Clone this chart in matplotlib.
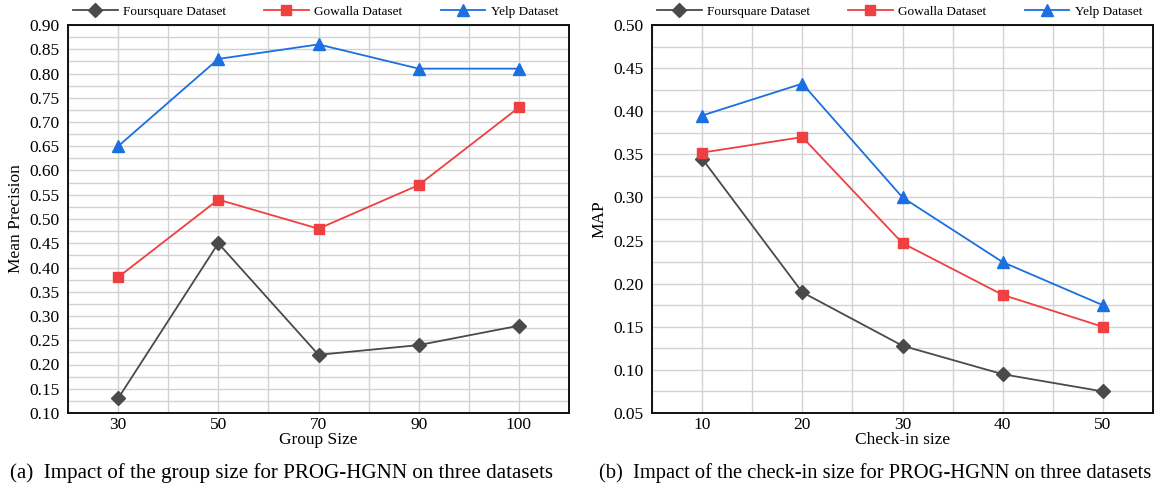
import numpy as np
import matplotlib.pyplot as plt
from matplotlib.ticker import MultipleLocator, FormatStrFormatter

plt.rcParams['font.family'] = ['Liberation Serif', 'DejaVu Serif']

# left panel: group size
group_sizes = ['30', '50', '70', '90', '100']
fsq_group = [0.13, 0.45, 0.22, 0.24, 0.28]
gow_group = [0.38, 0.54, 0.48, 0.57, 0.73]
yelp_group = [0.65, 0.83, 0.86, 0.81, 0.81]

# right panel: check-in size
checkin_sizes = ['10', '20', '30', '40', '50']
fsq_checkin = [0.345, 0.19, 0.128, 0.095, 0.075]
gow_checkin = [0.352, 0.37, 0.247, 0.187, 0.15]
yelp_checkin = [0.395, 0.432, 0.30, 0.225, 0.175]

labels = ['Foursquare Dataset', 'Gowalla Dataset', 'Yelp Dataset']
colors = ['#4a4a4a', '#ee4040', '#1c6fe0']
markers = ['D', 's', '^']
msizes = [7, 7.5, 8.5]

fig = plt.figure(figsize=(11.6, 4.88), dpi=100)
ax1 = fig.add_axes([68/1160, 1-413/488, 501/1160, 388/488])
ax2 = fig.add_axes([652/1160, 1-413/488, 501/1160, 388/488])


def draw(ax, cats, series, ylo, yhi, xlabel, ylabel):
    x = np.arange(len(cats))
    for vals, lab, c, m, ms in zip(series, labels, colors, markers, msizes):
        ax.plot(x, vals, color=c, marker=m, markersize=ms, linewidth=1.3,
                label=lab, zorder=3)
    ax.set_xlim(-0.5, len(cats)-0.5)
    ax.set_ylim(ylo, yhi)
    ax.set_xticks(x)
    ax.set_xticklabels(cats)
    ax.xaxis.set_minor_locator(MultipleLocator(0.5))
    ax.yaxis.set_major_locator(MultipleLocator(0.05))
    ax.yaxis.set_minor_locator(MultipleLocator(0.025))
    ax.yaxis.set_major_formatter(FormatStrFormatter('%.2f'))
    ax.grid(which='both', color='#d2d2d2', linewidth=1.0, zorder=0)
    ax.set_axisbelow(True)
    ax.tick_params(which='both', length=0, labelsize=12.5)
    ax.tick_params(axis='y', pad=6)
    ax.tick_params(axis='x', pad=3)
    for s in ax.spines.values():
        s.set_linewidth(1.4)
        s.set_color('#111111')
    ax.set_xlabel(xlabel, fontsize=12.5, labelpad=-1)
    ax.set_ylabel(ylabel, fontsize=12.5, labelpad=4)
    ax.legend(loc='lower left', bbox_to_anchor=(2/501, 1.012), ncol=3,
              frameon=False, fontsize=9.5, handlelength=3.4,
              handletextpad=0.4, columnspacing=2.9, borderaxespad=0.1,
              borderpad=0.1)


draw(ax1, group_sizes, [fsq_group, gow_group, yelp_group], 0.10, 0.90,
     'Group Size', 'Mean Precision')
draw(ax2, checkin_sizes, [fsq_checkin, gow_checkin, yelp_checkin], 0.05, 0.50,
     'Check-in size', 'MAP')

fig.text(282/1160, 1-473/488, '(a)  Impact of the group size for PROG-HGNN on three datasets',
         ha='center', va='center', fontsize=15.1)
fig.text(875/1160, 1-473/488, '(b)  Impact of the check-in size for PROG-HGNN on three datasets',
         ha='center', va='center', fontsize=14.8)

plt.savefig('out.png', dpi=100)
